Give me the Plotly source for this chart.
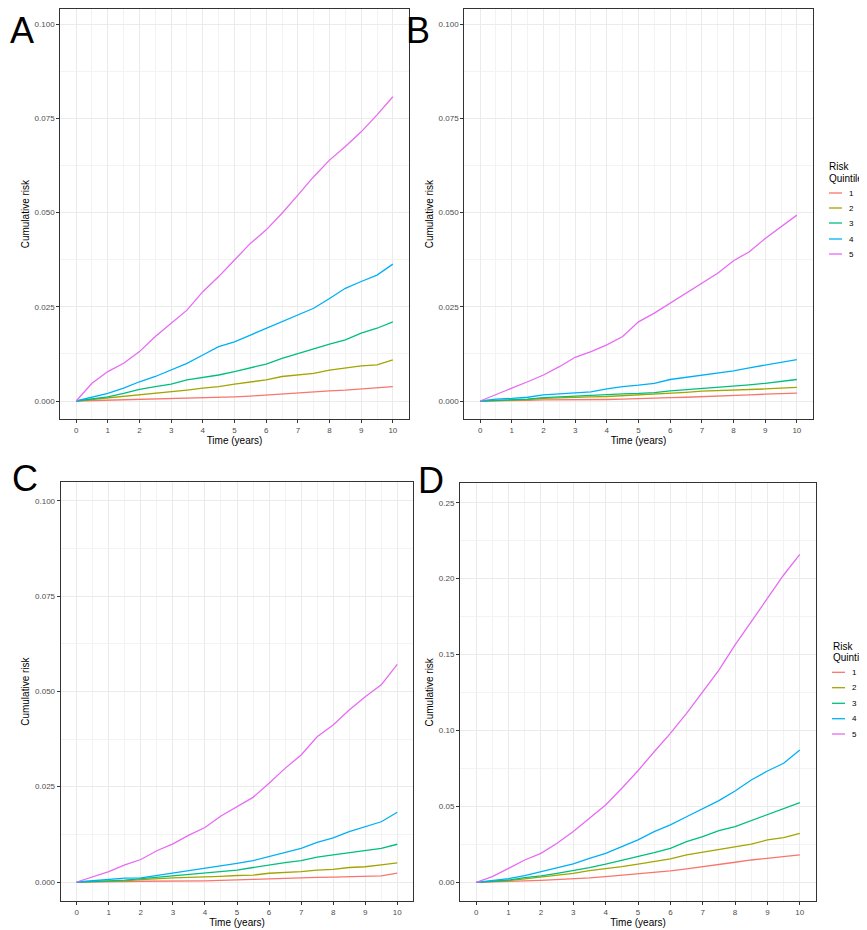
import plotly.graph_objects as go

TIMES = [0, 0.5, 1, 1.5, 2, 2.5, 3, 3.5, 4, 4.5, 5, 5.5, 6, 6.5, 7, 7.5, 8, 8.5, 9, 9.5, 10]
QUINTILES = ["1", "2", "3", "4", "5"]
COLORS = ["#F8766D", "#A3A500", "#00BF7D", "#00B0F6", "#E76BF3"]
X_TICKS = [0, 1, 2, 3, 4, 5, 6, 7, 8, 9, 10]
Y_TICKS_ABC = [0.0, 0.025, 0.05, 0.075, 0.1]
Y_LABELS_ABC = ["0.000", "0.025", "0.050", "0.075", "0.100"]
Y_TICKS_D = [0.0, 0.05, 0.10, 0.15, 0.20, 0.25]
Y_LABELS_D = ["0.00", "0.05", "0.10", "0.15", "0.20", "0.25"]
LEGEND_TITLE = ["Risk", "Quintile"]

# Panel A
A_Q1 = [0, 0.0001, 0.0002, 0.0003, 0.0004, 0.00045, 0.0005, 0.0007, 0.0009, 0.001, 0.0011, 0.0013, 0.0016, 0.0018, 0.002, 0.0023, 0.0027, 0.0029, 0.0032, 0.0036, 0.0038]
A_Q2 = [0, 0.0004, 0.0008, 0.0011, 0.0016, 0.002, 0.0025, 0.0029, 0.0034, 0.0038, 0.0045, 0.005, 0.0056, 0.0065, 0.0068, 0.0073, 0.0082, 0.0088, 0.0093, 0.0096, 0.0109]
A_Q3 = [0, 0.0005, 0.0011, 0.002, 0.0031, 0.0038, 0.0045, 0.0056, 0.0062, 0.0069, 0.0078, 0.0087, 0.0098, 0.0113, 0.0126, 0.014, 0.0151, 0.0162, 0.018, 0.0193, 0.021]
A_Q4 = [0, 0.0009, 0.002, 0.0034, 0.0051, 0.0065, 0.0082, 0.01, 0.0122, 0.0144, 0.0157, 0.0175, 0.0193, 0.021, 0.0228, 0.0246, 0.0272, 0.0299, 0.0317, 0.0334, 0.0363]
A_Q5 = [0, 0.0047, 0.0078, 0.01, 0.0131, 0.0171, 0.0206, 0.0241, 0.029, 0.033, 0.0374, 0.0418, 0.0454, 0.0498, 0.0546, 0.0595, 0.0639, 0.0675, 0.0714, 0.0759, 0.0807]

# Panel B
B_Q1 = [0, 0.0, 0.0001, 0.0002, 0.0003, 0.0003, 0.0004, 0.0004, 0.0004, 0.0005, 0.0007, 0.0008, 0.0009, 0.001, 0.0011, 0.0013, 0.0015, 0.0016, 0.0018, 0.0019, 0.0021]
B_Q2 = [0, 0.0001, 0.0002, 0.0004, 0.0007, 0.0009, 0.001, 0.0011, 0.0012, 0.0014, 0.0015, 0.0017, 0.002, 0.0023, 0.0026, 0.0027, 0.0029, 0.0031, 0.0032, 0.0034, 0.0036]
B_Q3 = [0, 0.0002, 0.0003, 0.0005, 0.0009, 0.0011, 0.0012, 0.0016, 0.0017, 0.0019, 0.002, 0.0022, 0.0027, 0.003, 0.0034, 0.0036, 0.0039, 0.0043, 0.0047, 0.0051, 0.0057]
B_Q4 = [0, 0.0005, 0.0007, 0.001, 0.0016, 0.0019, 0.0021, 0.0024, 0.0032, 0.0038, 0.0042, 0.0047, 0.0057, 0.0063, 0.0068, 0.0073, 0.008, 0.0088, 0.0095, 0.0102, 0.011]
B_Q5 = [0, 0.0016, 0.0034, 0.0051, 0.0069, 0.0091, 0.0116, 0.0131, 0.0149, 0.0171, 0.021, 0.0233, 0.0259, 0.0286, 0.0312, 0.0339, 0.0372, 0.0396, 0.0431, 0.0462, 0.0493]

# Panel C
C_Q1 = [0, 0.0, 0.0001, 0.0001, 0.0002, 0.0002, 0.0003, 0.0003, 0.0003, 0.0004, 0.0006, 0.0007, 0.0008, 0.001, 0.0011, 0.0012, 0.0013, 0.0014, 0.0015, 0.0016, 0.0023]
C_Q2 = [0, 0.0001, 0.0003, 0.0003, 0.0006, 0.0009, 0.0011, 0.0012, 0.0013, 0.0015, 0.0017, 0.0018, 0.0023, 0.0025, 0.0027, 0.0031, 0.0033, 0.0038, 0.004, 0.0045, 0.005]
C_Q3 = [0, 0.0001, 0.0003, 0.0005, 0.0009, 0.0012, 0.0016, 0.002, 0.0023, 0.0028, 0.0031, 0.0038, 0.0045, 0.0051, 0.0056, 0.0065, 0.0071, 0.0077, 0.0082, 0.0088, 0.0099]
C_Q4 = [0, 0.0003, 0.0007, 0.001, 0.0011, 0.0017, 0.0023, 0.003, 0.0036, 0.0042, 0.0049, 0.0056, 0.0066, 0.0077, 0.0088, 0.0104, 0.0116, 0.0132, 0.0145, 0.0158, 0.0183]
C_Q5 = [0, 0.0014, 0.0027, 0.0045, 0.0059, 0.0082, 0.01, 0.0123, 0.0143, 0.0173, 0.0198, 0.0222, 0.0259, 0.0298, 0.0333, 0.0381, 0.0412, 0.0451, 0.0486, 0.0517, 0.0571]

# Panel D
D_Q1 = [0, 0.0002, 0.0004, 0.0009, 0.0013, 0.0018, 0.0022, 0.0029, 0.0037, 0.0046, 0.0055, 0.0064, 0.0075, 0.0088, 0.0101, 0.0116, 0.0132, 0.0147, 0.0158, 0.0165, 0.018]
D_Q2 = [0, 0.0004, 0.0011, 0.0022, 0.0033, 0.0048, 0.0059, 0.0077, 0.0088, 0.0103, 0.0119, 0.0136, 0.0154, 0.018, 0.0198, 0.0213, 0.0235, 0.0252, 0.0279, 0.0294, 0.0323]
D_Q3 = [0, 0.0007, 0.0015, 0.0031, 0.0042, 0.0059, 0.0077, 0.0097, 0.0119, 0.0143, 0.0169, 0.0195, 0.0224, 0.0268, 0.0301, 0.034, 0.0367, 0.0406, 0.0448, 0.0483, 0.0525]
D_Q4 = [0, 0.0011, 0.0024, 0.0044, 0.0068, 0.0092, 0.0121, 0.0158, 0.0191, 0.0235, 0.0279, 0.0334, 0.0378, 0.0432, 0.0487, 0.0538, 0.0601, 0.0674, 0.0733, 0.0784, 0.0871]
D_Q5 = [0, 0.0037, 0.0092, 0.0147, 0.0191, 0.0257, 0.0334, 0.0421, 0.0509, 0.0619, 0.0735, 0.086, 0.0981, 0.1113, 0.1255, 0.1398, 0.1563, 0.1716, 0.187, 0.2024, 0.216]

W, H = 867, 930
OFF = 8  # the page body adds an 8px margin; place everything in page pixels minus that
FONT = "Liberation Sans, Arial, sans-serif"


def fx(px):
    return (px - OFF) / W


def fy(py):
    return 1 - (py - OFF) / H


def yrange_from(top_px, bot_px, zero_px, ref_px, ref_val):
    per = (zero_px - ref_px) / ref_val
    return [-(bot_px - zero_px) / per, (zero_px - top_px) / per]


panels = [
    # letter, series, x px (l, r), y px (top, bottom), y range, y ticks, y labels, legend px, minor y step, letter px
    ("A", [A_Q1, A_Q2, A_Q3, A_Q4, A_Q5], (60.3, 408.7), (9.0, 419.3),
     yrange_from(9.0, 419.3, 401.0, 24.0, 0.1), Y_TICKS_ABC, Y_LABELS_ABC, None, 0.0125, (8, 30)),
    ("B", [B_Q1, B_Q2, B_Q3, B_Q4, B_Q5], (464.3, 812.7), (9.0, 419.3),
     yrange_from(9.0, 419.3, 401.0, 24.0, 0.1), Y_TICKS_ABC, Y_LABELS_ABC,
     dict(title_x=827, title_y=(167, 178), key=(829, 842), label_x=847, rows=[193, 208, 223, 239, 254]),
     0.0125, (404, 30)),
    ("C", [C_Q1, C_Q2, C_Q3, C_Q4, C_Q5], (60.7, 413.3), (482.0, 901.3),
     yrange_from(482.0, 901.3, 882.0, 500.7, 0.1), Y_TICKS_ABC, Y_LABELS_ABC, None, 0.0125, (10, 478.5)),
    ("D", [D_Q1, D_Q2, D_Q3, D_Q4, D_Q5], (460.0, 816.0), (483.3, 901.3),
     yrange_from(483.3, 901.3, 882.3, 502.7, 0.25), Y_TICKS_D, Y_LABELS_D,
     dict(title_x=830.5, title_y=(646.7, 657.5), key=(832, 845), label_x=850, rows=[672.3, 687.7, 703.3, 718.7, 734]),
     0.025, (416, 480)),
]

fig = go.Figure()
layout = dict(
    width=W, height=H, margin=dict(l=0, r=0, t=0, b=0, autoexpand=False),
    paper_bgcolor="white", plot_bgcolor="white",
    font=dict(family=FONT, color="black"),
    showlegend=False,
)
annotations = []
shapes = []

for i, (letter, series, xpx, ypx, yrange, yt, yl, leg, yminor, lpos) in enumerate(panels):
    n = "" if i == 0 else str(i + 1)
    xa, ya = "x" + n, "y" + n
    for q, vals, col in zip(QUINTILES, series, COLORS):
        fig.add_trace(go.Scatter(
            x=TIMES, y=vals, mode="lines", name=q,
            line=dict(color=col, width=1.3),
            xaxis=xa, yaxis=ya, hoverinfo="x+y+name",
        ))
    common = dict(
        showline=True, mirror=True, linecolor="#333333", linewidth=1.1,
        ticks="outside", ticklen=3, tickcolor="#333333", tickwidth=1,
        tickfont=dict(size=8, color="#4D4D4D", family=FONT),
        showgrid=True, gridcolor="#EBEBEB", gridwidth=1,
        zeroline=False,
    )
    layout["xaxis" + n] = dict(
        common,
        domain=[fx(xpx[0]), fx(xpx[1])],
        range=[-0.5, 10.5], tickvals=X_TICKS,
        minor=dict(dtick=0.5, tick0=0.5, showgrid=True, gridcolor="#F3F3F3", gridwidth=0.6, ticks=""),
        title=dict(text="Time (years)", font=dict(size=10, color="black", family=FONT), standoff=1),
        anchor=ya,
    )
    layout["yaxis" + n] = dict(
        common,
        domain=[fy(ypx[1]), fy(ypx[0])],
        range=yrange, tickvals=yt, ticktext=yl,
        minor=dict(dtick=yminor, tick0=yminor, showgrid=True, gridcolor="#F3F3F3", gridwidth=0.6, ticks=""),
        title=dict(text="Cumulative risk", font=dict(size=10, color="black", family=FONT), standoff=3),
        anchor=xa,
    )
    annotations.append(dict(
        text=letter, x=fx(lpos[0]), y=fy(lpos[1]), xref="paper", yref="paper",
        xanchor="left", yanchor="middle", showarrow=False,
        font=dict(size=36, color="black", family=FONT),
    ))
    if leg is not None:
        for t, ty in zip(LEGEND_TITLE, leg["title_y"]):
            annotations.append(dict(
                text=t, x=fx(leg["title_x"]), y=fy(ty), xref="paper", yref="paper",
                xanchor="left", yanchor="middle", showarrow=False,
                font=dict(size=10, color="black", family=FONT),
            ))
        for q, col, ry in zip(QUINTILES, COLORS, leg["rows"]):
            shapes.append(dict(
                type="line", xref="paper", yref="paper",
                x0=fx(leg["key"][0]), x1=fx(leg["key"][1]), y0=fy(ry), y1=fy(ry),
                line=dict(color=col, width=1.3),
            ))
            annotations.append(dict(
                text=q, x=fx(leg["label_x"]), y=fy(ry), xref="paper", yref="paper",
                xanchor="left", yanchor="middle", showarrow=False,
                font=dict(size=8, color="black", family=FONT),
            ))

layout["annotations"] = annotations
layout["shapes"] = shapes
fig.update_layout(**layout)
fig.write_html("out.html")
